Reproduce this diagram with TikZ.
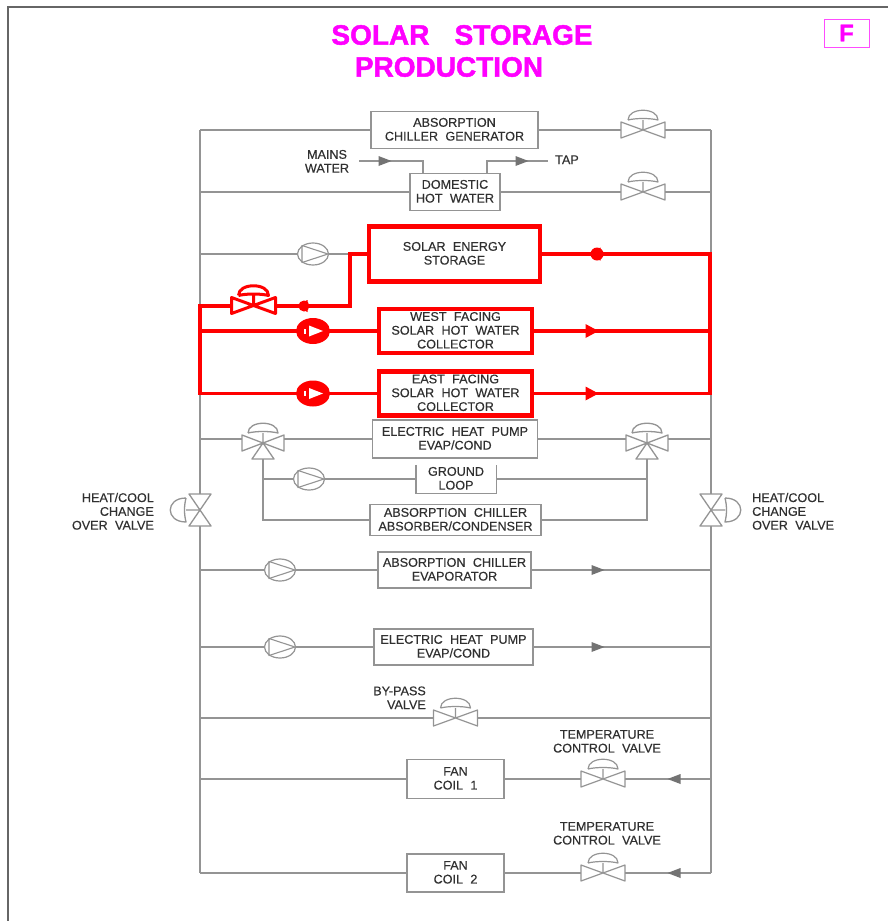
\documentclass[tikz,border=0pt]{standalone}
\usepackage{fontspec}
\setmainfont{Liberation Sans}[FakeBold=0.35,WordSpace=2.1,BoldFeatures={FakeBold=1.6}]
\usetikzlibrary{shapes.geometric}
\definecolor{pipe}{HTML}{949494}
\definecolor{ink}{HTML}{303030}
\definecolor{hot}{HTML}{FF0000}
\definecolor{mag}{HTML}{FF00FF}
\tikzset{
 pipeln/.style={draw=pipe,line width=1.4pt},
 hotln/.style={draw=hot,line width=3.6pt},
 txt/.style={text=ink,font=\fontsize{12.6}{13.8}\selectfont,inner sep=0pt,align=center,text depth=1.5pt},
 box/.style={pipeln,txt,rectangle,inner sep=0pt,outer sep=0pt},
 hotbox/.style={box,draw=hot,line width=4.5pt},
 vbox/.style={rectangle,minimum width=44pt,minimum height=16pt,inner sep=0pt,outer sep=0pt},
 hbox/.style={rectangle,minimum width=22pt,minimum height=32pt,inner sep=0pt,outer sep=0pt},
 tri/.style={rectangle,minimum width=42pt,minimum height=16pt,inner sep=0pt,outer sep=0pt},
 pumpn/.style={ellipse,draw=pipe,line width=1.2pt,fill=white,minimum width=31pt,minimum height=22pt,inner sep=0pt,outer sep=0pt},
 hotpump/.style={ellipse,draw=hot,fill=hot,line width=2pt,minimum width=32pt,minimum height=24pt,inner sep=0pt,outer sep=0pt},
 title/.style={text=mag,font=\fontsize{28}{32}\selectfont\bfseries,inner sep=0pt},
}
% valve: name, position, colour, width
\newcommand\vlv[4]{%
 \node[vbox] (#1) at (#2) {};
 \draw[#3,line width=#4,line join=round] (#1.center) -- ++(-22,-8) -- ++(0,16) -- cycle
  (#1.center) -- ++(22,-8) -- ++(0,16) -- cycle
  (#1.center) -- ++(0,-10)
  (#1.center) ++(-15,-10) .. controls +(0,-13) and +(0,-13) .. ++(30,0) .. controls +(-8,-2) and +(8,-2) .. ++(-30,0);
}
% three way valve: name, position
\newcommand\threeway[2]{%
 \node[tri] (#1) at (#2) {};
 \draw[pipe,line width=1.3pt,line join=round] (#1.center) -- ++(-21,-8) -- ++(0,16) -- cycle
  (#1.center) -- ++(21,-8) -- ++(0,16) -- cycle
  (#1.center) -- ++(-11,16) -- ++(22,0) -- cycle
  (#1.center) -- ++(0,-10)
  (#1.center) ++(-15,-10) .. controls +(0,-13) and +(0,-13) .. ++(30,0) .. controls +(-8,-2) and +(8,-2) .. ++(-30,0);
}
% changeover valve: name, position, direction (-1 left, 1 right)
\newcommand\chg[3]{%
 \node[hbox] (#1) at (#2) {};
 \draw[pipe,line width=1.3pt,line join=round] (#1.center) -- ++(-11,-16) -- ++(22,0) -- cycle
  (#1.center) -- ++(11,16) -- ++(-22,0) -- cycle
  (#1.center) -- ++(#3*14,0)
  (#1.center) ++(#3*14,-12) .. controls +(#3*21,0) and +(#3*21,0) .. ++(0,24) .. controls +(#3*2,-8) and +(#3*2,8) .. ++(0,-24);
}
% pump triangle
\newcommand\pmark[2]{\draw[#2,line width=1.1pt,line join=round] (#1) ++(-11,-8.5) -- ++(26,8.5) -- ++(-26,8.5) -- cycle;}
\newcommand\hotmark[1]{\fill[white] (#1) ++(-4,-5.5) -- ++(14,5.5) -- ++(-14,5.5) -- cycle;
 \fill[white] (#1) ++(-9,-2.5) rectangle ++(2,5);}
% arrow marks: coordinate, direction, half height, colour
\newcommand\amark[4]{\fill[#4] (#1) ++(#2*6.5,0) -- ++(#2*-13,-#3) -- ++(0,2*#3) -- cycle;}
\begin{document}
\begin{tikzpicture}[x=1pt,y=-1pt]
\useasboundingbox (0,0) rectangle (888,921);
\fill[white] (0,0) rectangle (888,921);
\coordinate (fA) at (8,921); \coordinate (fB) at (8,7); \coordinate (fC) at (888,7);
\draw[draw=black!60,line width=1.6pt] (fA) -- (fB) -- (fC);

\node[title] (t1) at (462,35) {SOLAR\hspace{0.9em}STORAGE};
\node[title] (t2) at (449,67) {PRODUCTION};
\node[draw=mag!70,line width=1pt,minimum width=45pt,minimum height=28pt,inner sep=0pt,text=mag,font=\fontsize{24}{26}\selectfont\bfseries] (fbox) at (846.5,33) {F};

% rails
\coordinate (Lt) at (200,130); \coordinate (Rt) at (711,130);
\coordinate (Lb) at (200,873); \coordinate (Rb) at (711,873);
\chg{cl}{200,510}{-1}
\chg{cr}{711,510}{1}
\draw[pipeln] (Lt) -- (cl.north);
\draw[pipeln] (cl.south) -- (Lb);
\draw[pipeln] (Rt) -- (cr.north);
\draw[pipeln] (cr.south) -- (Rb);

% row 1
\node[box,minimum width=167pt,minimum height=37pt] (gen) at (454.5,130) {ABSORPTION\\CHILLER GENERATOR};
\vlv{v1}{643,130}{pipe}{1.2pt}
\draw[pipeln] (Lt) -- (gen.west);
\draw[pipeln] (gen.east) -- (v1.west);
\draw[pipeln] (v1.east) -- (Rt);

% row 2
\node[box,minimum width=90pt,minimum height=37pt] (dhw) at (455,192) {DOMESTIC\\HOT WATER};
\vlv{v2}{643,192}{pipe}{1.2pt}
\coordinate (L2) at (200,192); \coordinate (R2) at (711,192);
\draw[pipeln] (L2) -- (dhw.west);
\draw[pipeln] (dhw.east) -- (v2.west);
\draw[pipeln] (v2.east) -- (R2);
\node[txt] (mains) at (327,162) {MAINS\\WATER};
\node[txt,anchor=west] (tap) at (555,160.5) {TAP};
\coordinate (m0) at (359,161); \coordinate (m1) at (423,161); \coordinate (m2) at (423,173);
\coordinate (t0) at (548,161); \coordinate (t1c) at (487,161); \coordinate (t2c) at (487,173);
\draw[pipeln] (m0) -- (m1) -- (m2);
\draw[pipeln] (t2c) -- (t1c) -- (t0);
\coordinate (am) at (385,161); \coordinate (at) at (522,161);
\amark{am}{1}{5}{black!55}
\amark{at}{1}{5}{black!55}

% solar storage row
\node[hotbox,minimum width=171pt,minimum height=55pt] (sto) at (454.5,254) {SOLAR ENERGY\\STORAGE};
\node[pumpn] (p1) at (313,254) {};
\pmark{p1}{pipe}
\coordinate (L3) at (200,254); \coordinate (c3) at (350,254); \coordinate (R3) at (711,254);
\draw[pipeln] (L3) -- (p1.west);
\draw[pipeln] (p1.east) -- (c3);

% red circuit
\node[hotbox,minimum width=153pt,minimum height=44pt] (west) at (455.5,331) {WEST FACING\\SOLAR HOT WATER\\COLLECTOR};
\node[hotbox,minimum width=153pt,minimum height=44pt] (east) at (455.5,393.5) {EAST FACING\\SOLAR HOT WATER\\COLLECTOR};
\coordinate (c4) at (350,306); \coordinate (L4) at (200,306);
\coordinate (L5) at (200,331); \coordinate (R5) at (710,331);
\coordinate (L6) at (200,393.5); \coordinate (R6) at (710,393.5);
\coordinate (R3h) at (710,254);
\node[hotpump] (p2) at (313,331) {};
\node[hotpump] (p3) at (313,393.5) {};
\hotmark{p2}
\hotmark{p3}
\vlv{rv}{253.5,305.5}{hot}{3pt}
\draw[hotln,line join=miter] (sto.west) -- (c3) -- (c4) -- (rv.east |- c4);
\draw[hotln,line join=miter] (rv.west |- L4) -- (L4) -- (L6) -- (p3.west);
\draw[hotln] (p3.east) -- (east.west);
\draw[hotln] (L5) -- (p2.west);
\draw[hotln] (p2.east) -- (west.west);
\draw[hotln,line join=miter] (sto.east) -- (R3h) -- (R6) -- (east.east);
\draw[hotln] (west.east) -- (R5);
\coordinate (a1) at (594,254); \coordinate (a2) at (301,306);
\coordinate (a3) at (592,331); \coordinate (a4) at (592,393.5);
\amark{a1}{-1}{6.5}{hot}
\fill[hot] (597,254) circle (6.5pt);
\amark{a2}{-1}{6}{hot}
\fill[hot] (304,306) circle (5.5pt);
\amark{a3}{1}{7}{hot}
\amark{a4}{1}{7}{hot}

% electric heat pump with three-way valves
\node[box,minimum width=165pt,minimum height=38pt] (ehp) at (455,439) {ELECTRIC HEAT PUMP\\EVAP/COND};
\threeway{w1}{263,443}
\threeway{w2}{647,443}
\coordinate (L7) at (200,439); \coordinate (R7) at (711,439);
\coordinate (w1l) at (242,439); \coordinate (w1r) at (284,439);
\coordinate (w2l) at (626,439); \coordinate (w2r) at (668,439);
\coordinate (w1b) at (263,459); \coordinate (w2b) at (647,459);
\draw[pipeln] (L7) -- (w1l);
\draw[pipeln] (w1r) -- (ehp.west);
\draw[pipeln] (ehp.east) -- (w2l);
\draw[pipeln] (w2r) -- (R7);

% ground loop
\node[txt,minimum width=80pt,minimum height=28pt] (gnd) at (456,479) {GROUND\\LOOP};
\draw[pipeln] (gnd.north west) -- (gnd.south west) -- (gnd.south east) -- (gnd.north east);
\node[pumpn] (p4) at (309,479) {};
\pmark{p4}{pipe}
\coordinate (j1) at (263,479); \coordinate (j2) at (647,479);
\draw[pipeln] (j1) -- (p4.west);
\draw[pipeln] (p4.east) -- (gnd.west);
\draw[pipeln] (gnd.east) -- (j2);

% absorber
\node[box,minimum width=171pt,minimum height=31pt] (abs) at (455.5,520) {ABSORPTION CHILLER\\ABSORBER/CONDENSER};
\coordinate (k1) at (263,520); \coordinate (k2) at (647,520);
\draw[pipeln] (w1b) -- (k1) -- (abs.west);
\draw[pipeln] (w2b) -- (k2) -- (abs.east);

% change-over labels
\node[txt,align=right,anchor=east] (hcl) at (154,512) {HEAT/COOL\\CHANGE\\OVER VALVE};
\node[txt,align=left,anchor=west] (hcr) at (752,512) {HEAT/COOL\\CHANGE\\OVER VALVE};

% evaporator
\node[box,minimum width=153pt,minimum height=36pt] (eva) at (454.5,570) {ABSORPTION CHILLER\\EVAPORATOR};
\node[pumpn] (p5) at (280,570) {};
\pmark{p5}{pipe}
\coordinate (L8) at (200,570); \coordinate (R8) at (711,570); \coordinate (a8) at (598,570);
\draw[pipeln] (L8) -- (p5.west);
\draw[pipeln] (p5.east) -- (eva.west);
\draw[pipeln] (eva.east) -- (R8);
\amark{a8}{1}{5}{black!55}

% heat pump 2
\node[box,minimum width=159pt,minimum height=36pt] (ehp2) at (453.5,647) {ELECTRIC HEAT PUMP\\EVAP/COND};
\node[pumpn] (p6) at (280,647) {};
\pmark{p6}{pipe}
\coordinate (L9) at (200,647); \coordinate (R9) at (711,647); \coordinate (a9) at (598,647);
\draw[pipeln] (L9) -- (p6.west);
\draw[pipeln] (p6.east) -- (ehp2.west);
\draw[pipeln] (ehp2.east) -- (R9);
\amark{a9}{1}{5}{black!55}

% by-pass
\vlv{v3}{455.5,718}{pipe}{1.2pt}
\coordinate (L10) at (200,718); \coordinate (R10) at (711,718);
\draw[pipeln] (L10) -- (v3.west);
\draw[pipeln] (v3.east) -- (R10);
\node[txt,align=right,anchor=east] (byp) at (426,698.5) {BY-PASS\\VALVE};

% fan coils
\node[box,minimum width=97pt,minimum height=39pt] (fc1) at (455.5,779) {FAN\\COIL 1};
\node[box,minimum width=97pt,minimum height=38pt] (fc2) at (455.5,873) {FAN\\COIL 2};
\vlv{v4}{603,779}{pipe}{1.2pt}
\vlv{v5}{603,873}{pipe}{1.2pt}
\coordinate (L11) at (200,779); \coordinate (R11) at (711,779);
\draw[pipeln] (L11) -- (fc1.west);
\draw[pipeln] (fc1.east) -- (v4.west);
\draw[pipeln] (v4.east) -- (R11);
\draw[pipeln] (Lb) -- (fc2.west);
\draw[pipeln] (fc2.east) -- (v5.west);
\draw[pipeln] (v5.east) -- (Rb);
\coordinate (a11) at (674,779); \coordinate (a12) at (674,873);
\amark{a11}{-1}{5}{black!55}
\amark{a12}{-1}{5}{black!55}
\node[txt] (tc1) at (607,742) {TEMPERATURE\\CONTROL VALVE};
\node[txt] (tc2) at (607,834) {TEMPERATURE\\CONTROL VALVE};
\end{tikzpicture}
\end{document}
